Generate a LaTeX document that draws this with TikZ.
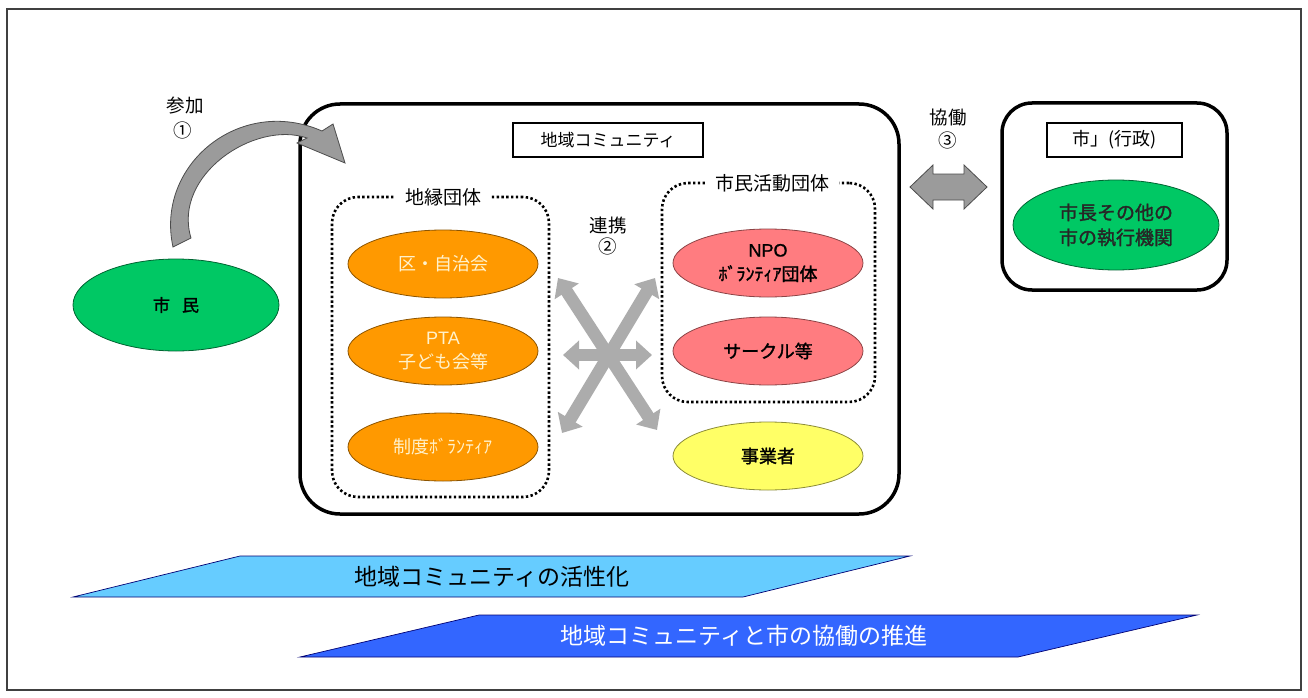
\documentclass[tikz,border=0pt]{standalone}
\usepackage{fontspec}
\setmainfont{Noto Sans CJK JP}
\newfontfamily\cjkb[FakeBold=1.6]{Noto Sans CJK JP}
\newfontfamily\arialf{Liberation Sans}
\newfontfamily\arialb[FakeBold=1.2]{Liberation Sans}
\usetikzlibrary{arrows.meta,shapes.geometric}
\definecolor{cgreen}{RGB}{0,200,100}
\definecolor{corange}{RGB}{255,153,0}
\definecolor{cpink}{RGB}{255,124,128}
\definecolor{cyellow}{RGB}{255,255,102}
\definecolor{clblue}{RGB}{102,204,255}
\definecolor{cdblue}{RGB}{51,102,255}
\definecolor{ccream}{RGB}{255,242,204}
\definecolor{cgray}{RGB}{172,172,172}
\definecolor{cdgray}{RGB}{155,155,155}
\tikzset{
  oval/.style={ellipse, draw=#1!55!black, line width=0.8pt, fill=#1,
    minimum width=190pt, minimum height=68pt, inner sep=0pt, align=center},
  txt/.style={font=\fontsize{18.5}{22}\selectfont, align=center, inner sep=1pt},
  labelbox/.style={draw, line width=2pt, minimum height=34pt, inner sep=0pt,
    font=\fontsize{17}{20}\selectfont},
  dotbox/.style={draw, line width=2.6pt, dash pattern=on 2.4pt off 2.4pt,
    rounded corners=26pt, inner sep=0pt},
  bigbox/.style={draw, line width=3.5pt, inner sep=0pt},
  crossarr/.style={draw=cgray, line width=12.5pt,
    {Triangle[width=28pt,length=16pt]}-{Triangle[width=28pt,length=16pt]}},
  band/.style={line width=0.7pt, draw=black!55!blue},
}
\begin{document}
\begin{tikzpicture}[x=1pt,y=-1pt]
\useasboundingbox (0,0) rectangle (1308,698);
% outer frame
\node[draw=black!75, line width=1.5pt, minimum width=1294pt, minimum height=681pt, inner sep=0pt] (frame) at (654,349.5) {};

% main community box
\node[bigbox, rounded corners=40pt, minimum width=599pt, minimum height=410pt] (comm) at (599.5,309) {};
\node[labelbox, minimum width=190pt] (commlbl) at (608,140) {地域コミュニティ};

% left dotted group
\node[dotbox, minimum width=217pt, minimum height=300pt] (chien) at (440.5,347) {};
\node[txt, fill=white, inner sep=10pt, inner ysep=2pt, font=\fontsize{19}{20}\selectfont] (chienlbl) at (443,197) {地縁団体};
\node[oval=corange, text=ccream, font=\fontsize{18}{22}\selectfont] (ku) at (443,264) {区・自治会};
\node[oval=corange, text=ccream, font=\fontsize{18}{24}\selectfont] (pta) at (443,351) {{\arialf PTA}\\子ども会等};
\node[oval=corange, text=ccream, font=\fontsize{18}{22}\selectfont] (seido) at (443,447) {制度ﾎﾞﾗﾝﾃｨｱ};

% right dotted group
\node[dotbox, minimum width=213pt, minimum height=219pt] (shimin) at (768.5,292.5) {};
\node[txt, fill=white, inner sep=10pt, inner ysep=2pt, font=\fontsize{19}{20}\selectfont] (shiminlbl) at (772,183) {市民活動団体};
\node[oval=cpink, font=\fontsize{18}{24}\selectfont] (npo) at (768,263) {{\arialb NPO}\\{\cjkb ﾎﾞﾗﾝﾃｨｱ団体}};
\node[oval=cpink, font=\fontsize{18}{22}\selectfont] (circle) at (768,351) {\cjkb サークル等};
\node[oval=cyellow, font=\fontsize{18}{22}\selectfont] (jigyo) at (768,456) {\cjkb 事業者};

% citizens
\node[ellipse, draw=cgreen!50!black, line width=0.8pt, fill=cgreen, minimum width=206pt, minimum height=92pt, font=\fontsize{17}{22}\selectfont] (citizen) at (176,305) {\cjkb 市\hspace{12pt}民};

% curved arrow 1
\filldraw[fill=cdgray, draw=black!70, line width=0.8pt]
  (173,247) .. controls (155,165) and (240,95) .. (322,131)
  -- (333,124) -- (345,163) -- (297,143) -- (307,138)
  .. controls (255,120) and (172,175) .. (191,238) -- cycle;
\node[txt] (sanka) at (185,106) {参加};
\node[txt] (n1) at (183,130) {①};

% cross arrows 2
\coordinate (xul) at (558,278);
\coordinate (xur) at (655,278);
\coordinate (xll) at (562,433);
\coordinate (xlr) at (657,430);
\coordinate (xhl) at (563,355);
\coordinate (xhr) at (652,355);
\draw[crossarr] (xul) -- (xlr);
\draw[crossarr] (xur) -- (xll);
\draw[crossarr] (xhl) -- (xhr);
\node[txt] (renkei) at (608,225) {連携};
\node[txt] (n2) at (608,246) {②};

% city box
\node[bigbox, rounded corners=30pt, minimum width=225pt, minimum height=187pt] (city) at (1114.5,196.5) {};
\node[labelbox, minimum width=135pt, font=\fontsize{18}{20}\selectfont] (citylbl) at (1114.5,140) {市」(行政)};
\node[ellipse, draw=cgreen!50!black, line width=0.8pt, fill=cgreen, minimum width=206pt, minimum height=90pt, align=center, text=black!85, font=\fontsize{19}{25}\selectfont] (mayor) at (1116,225) {\cjkb 市長その他の\\\cjkb 市の執行機関};

% double arrow 3
\filldraw[fill=cdgray, draw=black!70, line width=0.8pt]
  (910,187) -- (933,165) -- (933,174) -- (964,174) -- (964,165) -- (987,187)
  -- (964,209) -- (964,200) -- (933,200) -- (933,209) -- cycle;
\node[txt] (kyodo) at (948,118) {協働};
\node[txt] (n3) at (948,140) {③};

% bottom bands
\filldraw[band, fill=clblue] (73,597) -- (240,556) -- (910,556) -- (743,597) -- cycle;
\node[font=\fontsize{23}{26}\selectfont, inner sep=0pt] (kassei) at (492,577) {地域コミュニティの活性化};
\filldraw[band, fill=cdblue] (300,657) -- (479,615) -- (1197,615) -- (1018,657) -- cycle;
\node[font=\fontsize{23}{26}\selectfont, text=white, inner sep=0pt] (suishin) at (744,636) {地域コミュニティと市の協働の推進};
\end{tikzpicture}
\end{document}
